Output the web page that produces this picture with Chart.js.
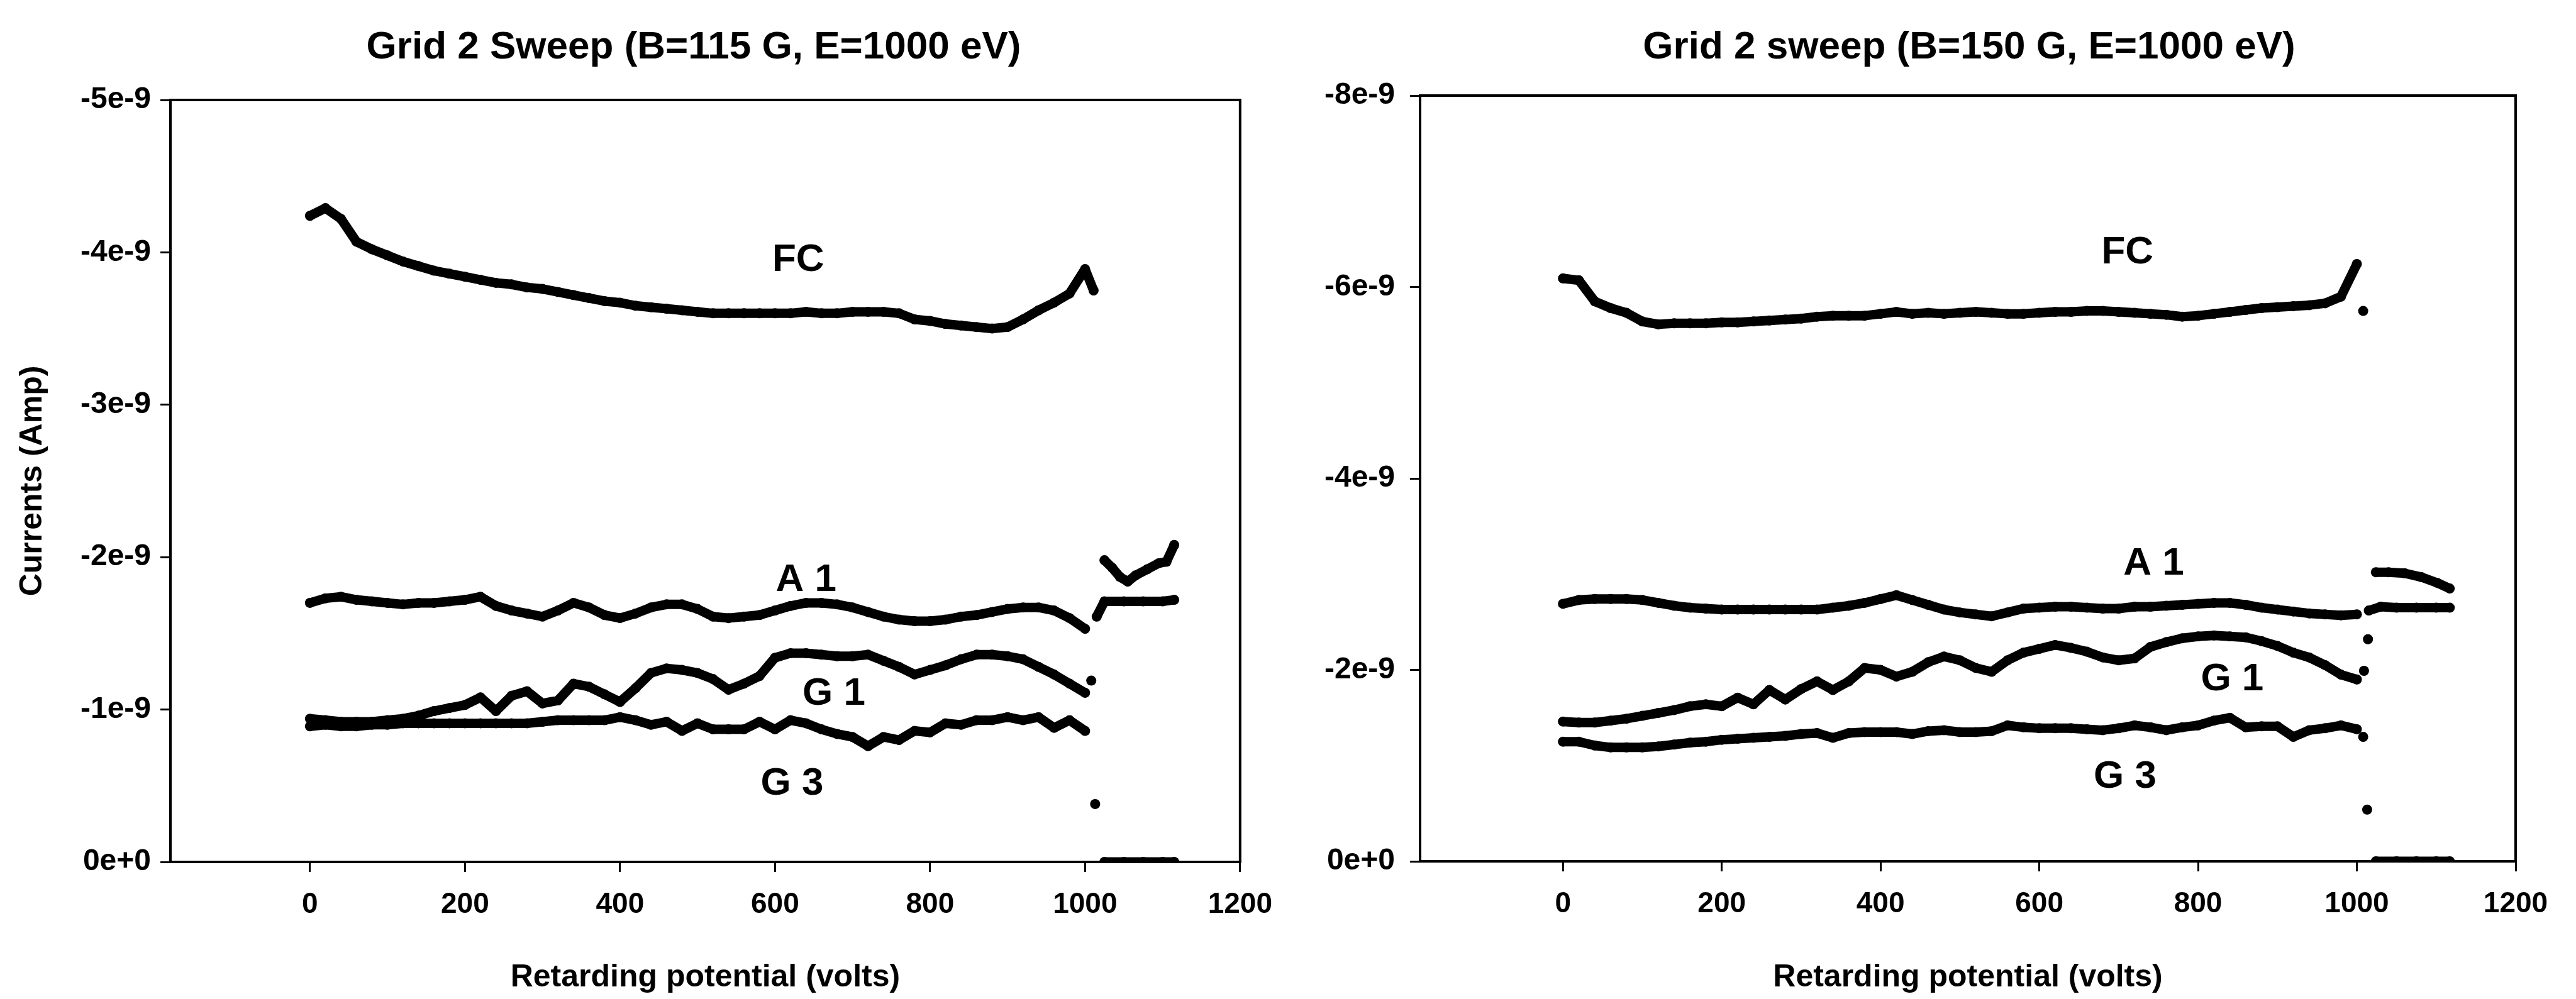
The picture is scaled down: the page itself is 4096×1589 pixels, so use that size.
<!DOCTYPE html>
<html>
<head>
<meta charset="utf-8">
<title>Grid 2 sweep</title>
<script src="https://cdn.jsdelivr.net/npm/chart.js@4.4.1/dist/chart.umd.min.js"></script>
<style>
  html, body { margin: 0; padding: 0; background: #fff; }
  #wrap { display: flex; width: 4096px; height: 1589px; }
  .panel { width: 2048px; height: 1589px; }
</style>
</head>
<body>
<div id="wrap">
  <div class="panel"><canvas id="left" width="2048" height="1589"></canvas></div>
  <div class="panel"><canvas id="right" width="2048" height="1589"></canvas></div>
</div>
<script>
const FONT = '"Liberation Sans", Arial, Helvetica, sans-serif';

const gridX = [0, 20, 40, 60, 80, 100, 120, 140, 160, 180, 200, 220, 240, 260, 280, 300, 320, 340, 360, 380,
  400, 420, 440, 460, 480, 500, 520, 540, 560, 580, 600, 620, 640, 660, 680, 700, 720, 740, 760, 780,
  800, 820, 840, 860, 880, 900, 920, 940, 960, 980, 1000];

const xTicks = [0, 200, 400, 600, 800, 1000, 1200];
const leftYTicks = [-5e-9, -4e-9, -3e-9, -2e-9, -1e-9, 0];
const rightYTicks = [-8e-9, -6e-9, -4e-9, -2e-9, 0];

// left panel, B=115 G (magnitudes in nA, plotted as negative current)
const leftFC = [4.24, 4.29, 4.22, 4.07, 4.02, 3.98, 3.94, 3.91, 3.88, 3.86,
  3.84, 3.82, 3.80, 3.79, 3.77, 3.76, 3.74, 3.72, 3.70, 3.68,
  3.67, 3.65, 3.64, 3.63, 3.62, 3.61, 3.60, 3.60, 3.60, 3.60,
  3.60, 3.60, 3.61, 3.60, 3.60, 3.61, 3.61, 3.61, 3.60, 3.56,
  3.55, 3.53, 3.52, 3.51, 3.50, 3.51, 3.56, 3.62, 3.67, 3.73, 3.89];
const leftA1 = [1.70, 1.73, 1.74, 1.72, 1.71, 1.70, 1.69, 1.70, 1.70, 1.71,
  1.72, 1.74, 1.68, 1.65, 1.63, 1.61, 1.65, 1.70, 1.67, 1.62,
  1.60, 1.63, 1.67, 1.69, 1.69, 1.66, 1.61, 1.60, 1.61, 1.62,
  1.65, 1.68, 1.70, 1.70, 1.69, 1.67, 1.64, 1.61, 1.59, 1.58,
  1.58, 1.59, 1.61, 1.62, 1.64, 1.66, 1.67, 1.67, 1.65, 1.60, 1.53];
const leftG1 = [0.94, 0.93, 0.92, 0.92, 0.92, 0.93, 0.94, 0.96, 0.99, 1.01,
  1.03, 1.08, 0.99, 1.09, 1.12, 1.04, 1.06, 1.17, 1.15, 1.10,
  1.05, 1.14, 1.24, 1.27, 1.26, 1.24, 1.20, 1.13, 1.17, 1.22,
  1.34, 1.37, 1.37, 1.36, 1.35, 1.35, 1.36, 1.32, 1.28, 1.23,
  1.26, 1.29, 1.33, 1.36, 1.36, 1.35, 1.33, 1.28, 1.23, 1.17, 1.11];
const leftG3 = [0.89, 0.90, 0.89, 0.89, 0.90, 0.90, 0.91, 0.91, 0.91, 0.91,
  0.91, 0.91, 0.91, 0.91, 0.91, 0.92, 0.93, 0.93, 0.93, 0.93,
  0.95, 0.93, 0.90, 0.92, 0.86, 0.91, 0.87, 0.87, 0.87, 0.92,
  0.87, 0.93, 0.91, 0.87, 0.84, 0.82, 0.76, 0.82, 0.80, 0.86,
  0.85, 0.91, 0.90, 0.93, 0.93, 0.95, 0.93, 0.95, 0.88, 0.93, 0.86];

// points beyond 1000 V (null = break in the trace)
const leftFCTailX = [1011, 1018, 1025, 1035, 1045, 1055, 1065, 1080, 1095, 1105, 1115];
const leftFCTail = [3.75, null, 1.98, 1.93, 1.87, 1.84, 1.88, 1.92, 1.96, 1.97, 2.08];
const leftA1TailX = [1008, 1015, 1025, 1050, 1075, 1100, 1115];
const leftA1Tail = [null, 1.61, 1.71, 1.71, 1.71, 1.71, 1.72];
const leftG1TailX = [1004, 1008];
const leftG1Tail = [null, 1.19];
const leftG3TailX = [1006, 1013, 1020, 1025, 1050, 1075, 1100, 1115];
const leftG3Tail = [null, 0.38, null, 0, 0, 0, 0, 0];

// right panel, B=150 G
const rightFC = [6.09, 6.07, 5.85, 5.78, 5.73, 5.64, 5.61, 5.62, 5.62, 5.62,
  5.63, 5.63, 5.64, 5.65, 5.66, 5.67, 5.69, 5.70, 5.70, 5.70,
  5.72, 5.74, 5.72, 5.73, 5.72, 5.73, 5.74, 5.73, 5.72, 5.72,
  5.73, 5.74, 5.74, 5.75, 5.75, 5.74, 5.73, 5.72, 5.71, 5.69,
  5.70, 5.72, 5.74, 5.76, 5.78, 5.79, 5.80, 5.81, 5.83, 5.90, 6.24];
const rightA1 = [2.69, 2.73, 2.74, 2.74, 2.74, 2.73, 2.70, 2.67, 2.65, 2.64,
  2.63, 2.63, 2.63, 2.63, 2.63, 2.63, 2.63, 2.65, 2.67, 2.70,
  2.74, 2.78, 2.73, 2.68, 2.63, 2.60, 2.58, 2.56, 2.60, 2.64,
  2.65, 2.66, 2.66, 2.65, 2.64, 2.64, 2.66, 2.66, 2.67, 2.68,
  2.69, 2.70, 2.70, 2.68, 2.65, 2.63, 2.61, 2.59, 2.58, 2.57, 2.58];
const rightG1 = [1.46, 1.45, 1.45, 1.47, 1.49, 1.52, 1.55, 1.58, 1.62, 1.64,
  1.62, 1.71, 1.64, 1.79, 1.69, 1.80, 1.88, 1.79, 1.88, 2.02,
  2.00, 1.93, 1.98, 2.08, 2.14, 2.10, 2.02, 1.98, 2.10, 2.18,
  2.22, 2.26, 2.23, 2.19, 2.13, 2.10, 2.12, 2.24, 2.29, 2.33,
  2.35, 2.36, 2.35, 2.34, 2.30, 2.25, 2.18, 2.13, 2.05, 1.95, 1.90];
const rightG3 = [1.25, 1.25, 1.21, 1.19, 1.19, 1.19, 1.20, 1.22, 1.24, 1.25,
  1.27, 1.28, 1.29, 1.30, 1.31, 1.33, 1.34, 1.29, 1.34, 1.35,
  1.35, 1.35, 1.33, 1.36, 1.37, 1.35, 1.35, 1.36, 1.42, 1.40,
  1.39, 1.39, 1.39, 1.38, 1.37, 1.39, 1.42, 1.40, 1.37, 1.40,
  1.42, 1.47, 1.50, 1.40, 1.41, 1.41, 1.30, 1.37, 1.39, 1.42, 1.38];

const rightFCTailX = [1004, 1008, 1016, 1024, 1040, 1060, 1081, 1101, 1117];
const rightFCTail = [null, 5.75, null, 3.02, 3.02, 3.01, 2.97, 2.91, 2.85];
const rightA1TailX = [1006, 1015, 1030, 1050, 1075, 1100, 1117];
const rightA1Tail = [null, 2.62, 2.66, 2.65, 2.65, 2.65, 2.65];
const rightG1TailX = [1004, 1009, 1012, 1014];
const rightG1Tail = [null, 1.99, null, 2.32];
const rightG3TailX = [1004, 1008, 1011, 1013, 1018, 1024, 1050, 1075, 1100, 1117];
const rightG3Tail = [null, 1.30, null, 0.54, null, 0, 0, 0, 0, 0];

// curve labels (text, volts, nA)
const labelText = ['FC', 'A 1', 'G 1', 'G 3'];
const leftLabelV = [630, 640, 676, 622];
const leftLabelA = [3.95, 1.85, 1.10, 0.51];
const rightLabelV = [711, 744, 843, 708];
const rightLabelA = [6.36, 3.11, 1.90, 0.88];

function toPoints(xs, vals) {
  return xs.map((x, i) => ({ x: x, y: vals[i] === null ? null : -vals[i] * 1e-9 }));
}

function trace(mainVals, tailX, tailVals) {
  return {
    data: toPoints(gridX, mainVals).concat(toPoints(tailX, tailVals)),
    showLine: true,
    spanGaps: false,
    borderColor: '#000',
    backgroundColor: '#000',
    borderWidth: 15,
    borderJoinStyle: 'round',
    borderCapStyle: 'round',
    pointRadius: 8,
    pointBorderWidth: 0,
    pointHoverRadius: 0,
    tension: 0
  };
}

const overlay = {
  id: 'overlay',
  afterDraw(chart, args, opts) {
    const { ctx, chartArea: a } = chart;
    const xs = chart.scales.x, ys = chart.scales.y;
    ctx.save();
    ctx.strokeStyle = '#000';
    ctx.lineWidth = 4;
    ctx.strokeRect(a.left, a.top, a.right - a.left, a.bottom - a.top);
    ctx.fillStyle = '#000';
    ctx.textAlign = 'center';
    ctx.textBaseline = 'middle';
    ctx.font = 'bold 62px ' + FONT;
    ctx.fillText(opts.title, opts.titleX, 76);
    ctx.font = 'bold 62px ' + FONT;
    labelText.forEach((t, i) => {
      ctx.fillText(t, xs.getPixelForValue(opts.labelV[i]), ys.getPixelForValue(-opts.labelA[i] * 1e-9));
    });
    ctx.restore();
  }
};

function makeChart(id, cfg) {
  return new Chart(document.getElementById(id), {
    type: 'scatter',
    data: { datasets: cfg.datasets },
    plugins: [overlay],
    options: {
      responsive: false,
      animation: false,
      devicePixelRatio: 1,
      events: [],
      layout: { padding: { top: cfg.top, right: cfg.right, left: 0, bottom: 0 } },
      plugins: {
        legend: { display: false },
        tooltip: { enabled: false },
        overlay: { title: cfg.title, titleX: cfg.titleX, labelV: cfg.labelV, labelA: cfg.labelA }
      },
      scales: {
        x: {
          type: 'linear',
          min: -180,
          max: 1200,
          afterBuildTicks: ax => { ax.ticks = xTicks.map(v => ({ value: v })); },
          afterFit: ax => { ax.height = cfg.xHeight; },
          grid: { drawOnChartArea: false, tickLength: 16, tickWidth: 3, color: '#000' },
          border: { color: '#000', width: 4 },
          ticks: {
            color: '#000', autoSkip: false, maxRotation: 0, padding: 25,
            font: { family: FONT, size: 46, weight: 'bold' },
            callback: v => String(v)
          },
          title: {
            display: true, text: 'Retarding potential (volts)', color: '#000',
            font: { family: FONT, size: 50, weight: 'bold' }, padding: { top: 0, bottom: 4 }
          }
        },
        y: {
          type: 'linear',
          reverse: true,
          min: cfg.yMin,
          max: 0,
          afterBuildTicks: ax => { ax.ticks = cfg.yTicks.map(v => ({ value: v })); },
          afterFit: ax => { ax.width = cfg.yWidth; },
          grid: { drawOnChartArea: false, tickLength: 16, tickWidth: 3, color: '#000' },
          border: { color: '#000', width: 4 },
          ticks: {
            color: '#000', autoSkip: false, padding: cfg.yPad,
            font: { family: FONT, size: 48, weight: 'bold' },
            callback: v => (v === 0 ? '0e+0' : Math.round(v * 1e9) + 'e-9')
          },
          title: {
            display: cfg.yTitle !== '', text: cfg.yTitle, color: '#000',
            font: { family: FONT, size: 50, weight: 'bold' }, padding: { top: 22, bottom: 0 }
          }
        }
      }
    }
  });
}

makeChart('left', {
  datasets: [
    trace(leftFC, leftFCTailX, leftFCTail),
    trace(leftA1, leftA1TailX, leftA1Tail),
    trace(leftG1, leftG1TailX, leftG1Tail),
    trace(leftG3, leftG3TailX, leftG3Tail)
  ],
  top: 159, right: 41, xHeight: 218, yWidth: 271, yPad: 15,
  yMin: -5e-9, yTicks: leftYTicks, yTitle: 'Currents (Amp)',
  title: 'Grid 2 Sweep (B=115 G, E=1000 eV)', titleX: 1103,
  labelV: leftLabelV, labelA: leftLabelA
});

makeChart('right', {
  datasets: [
    trace(rightFC, rightFCTailX, rightFCTail),
    trace(rightA1, rightA1TailX, rightA1Tail),
    trace(rightG1, rightG1TailX, rightG1Tail),
    trace(rightG3, rightG3TailX, rightG3Tail)
  ],
  top: 152, right: 96, xHeight: 219, yWidth: 210, yPad: 24,
  yMin: -8e-9, yTicks: rightYTicks, yTitle: '',
  title: 'Grid 2 sweep (B=150 G, E=1000 eV)', titleX: 1083,
  labelV: rightLabelV, labelA: rightLabelA
});
</script>
</body>
</html>
